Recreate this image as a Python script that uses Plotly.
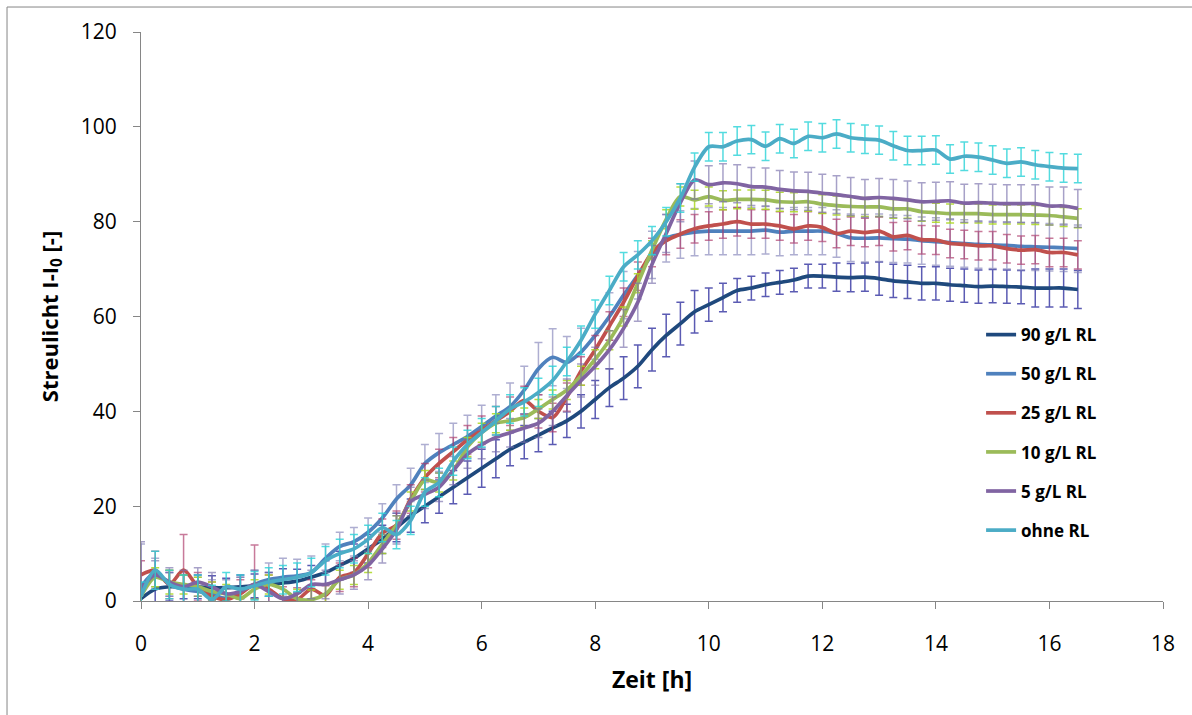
import plotly.graph_objects as go

# time axis [h]
time_h = [i * 0.25 for i in range(67)]

series_names = ["90 g/L RL", "50 g/L RL", "25 g/L RL", "10 g/L RL", "5 g/L RL", "ohne RL"]

y_90 = [0.5, 2.5, 3, 3, 3, 2.8, 2.8, 3, 3.2, 3.5, 3.8, 4.2, 5, 6, 7.5, 9, 11, 13, 15.5, 18,
        20, 22, 24, 26, 28, 30, 32, 33.5, 35, 36.5, 38, 40, 42.5, 45, 47, 49.5, 53, 56, 58.5, 61,
        62.5, 64, 65.5, 66, 66.7, 67.2, 67.7, 68.5, 68.5, 68.3, 68.2, 68.3, 68, 67.5, 67.3, 67, 67, 66.7,
        66.5, 66.3, 66.4, 66.3, 66.2, 66, 66, 66, 65.7]
y_50 = [3, 6, 3.5, 2.5, 2, 1.5, 0.5, 2, 3.5, 4.5, 5, 5.3, 6, 9, 11.5, 12.5, 14.5, 17.5, 21.5, 24.5,
        29, 31.3, 33, 34.7, 36.8, 39, 41, 44.5, 49, 51.4, 50.3, 52.5, 56, 60, 64.5, 68.7, 73, 76.5, 77.3, 77.8,
        78, 78, 78, 78, 78.2, 77.8, 78, 78, 78, 77.5, 76.6, 76.5, 76.6, 76.4, 76.3, 76, 75.8, 75.6,
        75.4, 75.2, 75.1, 75, 74.8, 74.7, 74.6, 74.5, 74.3]
y_25 = [5.5, 6.5, 3.5, 6.5, 3, 1, 0.3, 1.5, 3.5, 2.5, 0.5, 0.3, 2.5, 1.2, 5, 6, 10, 14.3, 16, 21.5,
        26, 29, 31.5, 34, 36, 38, 40, 42.3, 40, 38.7, 43, 48.5, 53, 58, 63, 68.5, 73.5, 76, 77.4, 78.5,
        79.1, 79.5, 80, 79.5, 79.5, 79.1, 78.5, 79.1, 78.8, 77.5, 78, 77.7, 78, 76.8, 77.1, 76.2, 76.1, 75.4,
        75.2, 74.9, 74.9, 74.3, 74, 74.1, 73.5, 73.5, 73]
y_10 = [1, 5, 4, 3.5, 3, 2, 1.5, 0.5, 2.5, 3.5, 2.5, 0.5, 0.3, 1.5, 4.5, 5.5, 8, 12, 16, 21,
        25.5, 25, 27.5, 32.5, 35.5, 37.5, 38, 38.7, 40.5, 42.5, 44.5, 47.5, 51, 55, 60, 67, 74, 80.5, 85.3, 84.6,
        85.3, 84.5, 84.7, 84.7, 84.6, 84.2, 84.1, 84.2, 83.7, 83.4, 83.2, 83.1, 83.1, 82.7, 82.7, 82.1, 81.9, 81.7,
        81.7, 81.7, 81.5, 81.5, 81.5, 81.4, 81.3, 81, 80.7]
y_5 = [2.5, 5.5, 4, 3, 4, 3, 1.5, 2, 3.5, 2, 0.5, 1.5, 3.5, 3.5, 4.5, 5.5, 7.5, 11, 15, 21,
       22.5, 24, 27.5, 31, 33, 34.5, 35.5, 36.5, 37.5, 40, 43.3, 46.5, 49.5, 53, 57.5, 63, 71, 77.5, 84, 88.8,
       87.8, 88.2, 88, 87.4, 87.3, 86.8, 86.5, 86.4, 86, 85.7, 85.3, 84.9, 85.1, 84.9, 84.6, 84.2, 84.3, 84.4,
       83.9, 84, 83.9, 83.8, 83.8, 83.8, 83.3, 83.3, 82.8]
y_ohne = [1, 6.5, 3.5, 2.5, 2.5, 0.3, 3, 2.5, 3.2, 4, 4.5, 5, 6, 8.5, 10, 11, 13, 15.5, 14, 17,
          23, 25, 29.5, 33, 35.5, 38, 40.5, 42, 44, 46.5, 50.5, 55, 60.5, 65.5, 70.5, 73, 76, 80, 85, 91.5,
          95.8, 95.8, 97, 97.3, 95.9, 97.5, 96.5, 98, 97.7, 98.5, 97.7, 97.4, 97.2, 96, 95, 95, 95.1, 93.2,
          93.8, 93.6, 93, 92.3, 92.6, 92, 91.6, 91.3, 91.2]

err_90 = [2.5, 3, 3, 2.5, 2.5, 2.5, 2, 2.5, 2.5, 2.5, 3, 2.5, 2.5, 2.5, 3, 3, 3, 3, 3, 3.5,
          3.5, 3.5, 3.5, 3.5, 4, 4, 3.5, 3.5, 3.5, 3.5, 3.5, 3.5, 4, 4, 4.5, 4.5, 4.5, 4.5, 4.5, 4.5,
          3.5, 3, 2.5, 2.5, 2.5, 2.5, 2.5, 2.5, 2.5, 3, 3, 3, 3.5, 3.5, 3.5, 3.5, 3.5, 3.5,
          3.5, 3.5, 3.5, 3.5, 3.5, 4, 4, 4, 4]
err_50 = [9, 3, 2.5, 3, 3, 3, 2.5, 3, 3, 3.5, 4, 3.5, 3.5, 3, 3, 3, 3, 3, 3, 3.5,
          4, 4, 4.5, 4.5, 4.5, 4.5, 5, 5, 5.5, 6, 5.5, 5, 5, 5, 5, 5, 5, 5, 5, 5,
          5, 5, 5, 5, 5, 5, 5, 5, 5, 5, 5, 5, 5, 5, 5, 5, 5, 5,
          5, 5, 5, 5, 5, 5, 5, 5, 5]
err_25 = [3, 4, 3, 7.5, 3, 3, 2.5, 3, 8.3, 3, 2.5, 2.5, 2, 2, 3, 3, 3, 3, 3, 3,
          3, 3, 3, 3, 3, 3, 3, 3, 3.5, 3, 3, 3, 3, 3, 3, 3, 3, 3, 3, 3,
          3, 3, 3, 3, 3, 3, 3, 3, 3, 3, 3, 3, 3, 3, 3, 3, 3, 3,
          3, 3, 3, 3, 3, 3, 3, 3, 3]
err_10 = [2, 2, 2.5, 2, 2, 2, 2, 2, 2, 2, 2, 2, 2, 2, 2, 2, 2, 2, 2, 2,
          2, 2, 2, 2, 2, 2, 2, 2, 2, 2, 2, 2, 2, 2, 2, 2, 2, 2, 2, 2,
          2, 2, 2, 2, 2, 2, 2, 2, 2, 2, 2, 2, 2, 2, 2, 2, 2, 2,
          2, 2, 2, 2, 2, 2, 2, 2, 2]
err_5 = [10, 3, 3, 3.5, 3, 3, 3, 3, 3, 4, 4, 3.5, 3, 3, 3, 3, 3, 3, 3, 3,
         3, 3, 3, 3, 3, 3, 3, 3, 3, 3, 3.5, 3.5, 4, 4, 4, 4, 4, 4, 4, 4,
         4, 4, 4, 4, 4, 4, 4, 4, 4, 4, 4, 4, 4, 4, 4, 4, 4, 4,
         4, 4, 4, 4, 4, 4, 4, 4, 4]
err_ohne = [3, 4, 3, 3, 3, 3, 3, 3, 3, 3, 3, 3, 3, 3, 3, 3, 3, 3, 3, 3,
            3, 3, 3, 3, 3, 3, 3, 3, 3, 3, 3, 3, 3, 3, 3, 3, 3, 3, 3, 3,
            3, 3, 3, 3, 3, 3, 3, 3, 3, 3, 3, 3, 3, 3, 3, 3, 3, 3,
            3, 3, 3, 3, 3, 3, 3, 3, 3]

x_ticks = [0, 2, 4, 6, 8, 10, 12, 14, 16, 18]
y_ticks = [0, 20, 40, 60, 80, 100, 120]

line_colors = ["#1F497D", "#4F81BD", "#C0504D", "#9BBB59", "#8064A2", "#4BACC6"]
err_colors = ["rgba(50,50,160,0.8)", "rgba(130,130,185,0.65)", "rgba(170,50,100,0.65)",
              "rgba(170,215,30,0.85)", "rgba(120,110,170,0.65)", "rgba(40,210,215,0.8)"]

ys = [y_90, y_50, y_25, y_10, y_5, y_ohne]
errs = [err_90, err_50, err_25, err_10, err_5, err_ohne]

fig = go.Figure()
for name, y, e, lc, ec in zip(series_names, ys, errs, line_colors, err_colors):
    fig.add_trace(go.Scatter(
        x=time_h, y=y, mode="lines", name=name, legendgroup=name,
        line=dict(color=lc, width=3.7, shape="spline", smoothing=0.8),
        error_y=dict(type="data", array=e, visible=True, color=ec, thickness=1.5, width=4),
    ))

FONT = "Open Sans, Liberation Sans, sans-serif"
axis_font = dict(family=FONT, size=21, color="#000000")

fig.update_layout(
    width=1192, height=715,
    margin=dict(l=141, r=29, t=32, b=114),
    paper_bgcolor="white", plot_bgcolor="white",
    showlegend=True,
    legend=dict(x=0.822, y=0.499, xanchor="left", yanchor="top",
                font=dict(family=FONT, size=17, color="#000", weight="bold"),
                tracegroupgap=14, bgcolor="rgba(0,0,0,0)"),
    xaxis=dict(range=[0, 18], tickvals=x_ticks, showgrid=False, zeroline=False,
               showline=True, linecolor="#868686", linewidth=1,
               ticks="outside", ticklen=7, tickcolor="#868686",
               tickfont=axis_font, ticklabelstandoff=17,
               title=dict(text="Zeit [h]", standoff=15,
                          font=dict(family=FONT, size=23, color="#000", weight="bold"))),
    yaxis=dict(range=[0, 120], tickvals=y_ticks, showgrid=False, zeroline=False,
               showline=True, linecolor="#868686", linewidth=1,
               ticks="outside", ticklen=7, tickcolor="#868686",
               tickfont=axis_font, ticklabelstandoff=12,
               title=dict(text="Streulicht I-I<sub>0</sub> [-]", standoff=16,
                          font=dict(family=FONT, size=22, color="#000", weight="bold"))),
    shapes=[dict(type="rect", xref="paper", yref="paper",
                 x0=-0.1311, x1=1.5, y0=-0.6, y1=1.0439,
                 line=dict(color="#868686", width=1), fillcolor="rgba(0,0,0,0)", layer="below")],
)

fig.write_html("out.html")
